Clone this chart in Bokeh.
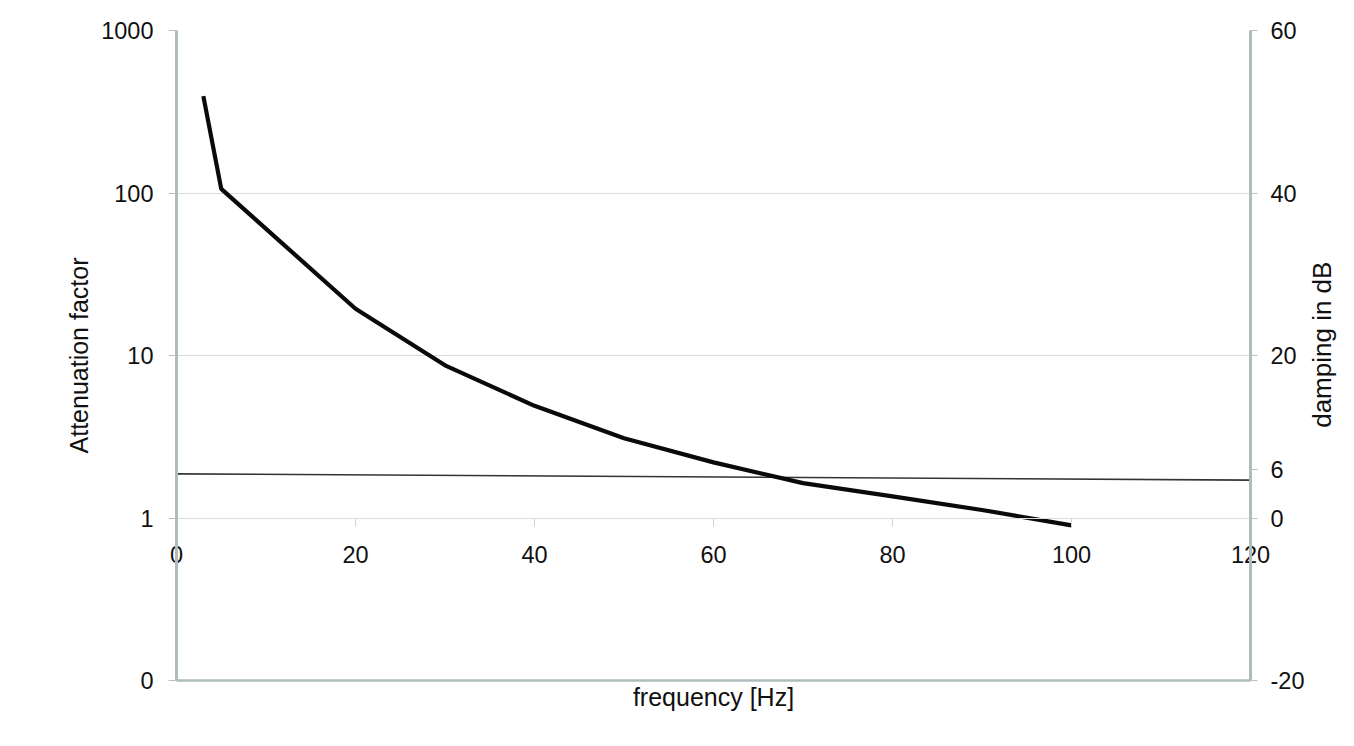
import math
import numpy as np
from bokeh.plotting import figure
from bokeh.models import (LinearAxis, Range1d, FixedTicker, LinearScale)
from bokeh.embed import file_html
from bokeh.resources import INLINE

# ---- data ----
freq = [3, 5, 20, 30, 40, 50, 60, 70, 80, 90, 100]
attenuation = [395, 106, 19.4, 8.7, 4.9, 3.1, 2.2, 1.64, 1.36, 1.12, 0.90]
ref_freq = [0, 120]
ref_factor = [1.87, 1.71]

x_ticks = [0, 20, 40, 60, 80, 100, 120]
left_ticks = [0.1, 1, 10, 100, 1000]
left_labels = {0.1: "0", 1: "1", 10: "10", 100: "100", 1000: "1000"}
grid_ticks = [1, 10, 100, 1000]
right_ticks = [-20, 0, 6, 20, 40, 60]
right_labels = {-20: "-20"}
right_title = "damping in dB"
right_title_start = 11.1   # dB level where the rotated right title begins

FONT = "Liberation Sans"
BORDER = "#aebcbc"
GRID = "#d9dcdc"
TICK = "#b8c0c0"
TXT = "#111111"

p = figure(width=1354, height=738, output_backend="svg", toolbar_location=None,
           x_range=Range1d(0, 120), y_range=Range1d(0.1, 1000),
           y_axis_type="log", x_axis_location=None,
           min_border_left=176, min_border_right=104,
           min_border_top=30, min_border_bottom=58)
p.outline_line_color = None
p.xgrid.visible = False
p.ygrid.ticker = FixedTicker(ticks=grid_ticks)
p.ygrid.grid_line_color = GRID
p.ygrid.grid_line_width = 1

# left axis
ya = p.yaxis[0]
ya.ticker = FixedTicker(ticks=left_ticks)
ya.major_label_overrides = left_labels
ya.axis_line_color = BORDER
ya.axis_line_width = 3
ya.major_tick_line_color = TICK
ya.major_tick_in = 0
ya.major_tick_out = 8
ya.minor_tick_line_color = None
ya.major_label_standoff = 15
ya.major_label_text_font = FONT
ya.major_label_text_font_size = "23.5px"
ya.major_label_text_color = TXT
ya.axis_label = "Attenuation factor"
ya.axis_label_text_font = FONT
ya.axis_label_text_font_size = "25px"
ya.axis_label_text_font_style = "normal"
ya.axis_label_text_color = TXT
ya.axis_label_standoff = 5

# right axis (dB, linear): line, ticks, tick labels
p.extra_y_ranges = {"db": Range1d(-20, 60)}
p.extra_y_scales = {"db": LinearScale()}
ra = LinearAxis(y_range_name="db", ticker=FixedTicker(ticks=right_ticks))
ra.major_label_overrides = right_labels
ra.axis_line_color = BORDER
ra.axis_line_width = 3
ra.major_tick_line_color = TICK
ra.major_tick_in = 0
ra.major_tick_out = 7
ra.minor_tick_line_color = None
ra.minor_tick_out = 0
ra.major_label_standoff = 13
ra.major_label_text_font = FONT
ra.major_label_text_font_size = "23.5px"
ra.major_label_text_color = TXT
p.add_layout(ra, "right")

# right axis title, drawn as a rotated single label of an outer axis
rl = LinearAxis(y_range_name="db", ticker=FixedTicker(ticks=[right_title_start]))
rl.major_label_overrides = {right_title_start: right_title}
rl.major_label_orientation = math.pi / 2
rl.axis_line_color = None
rl.major_tick_line_color = None
rl.minor_tick_line_color = None
rl.major_tick_in = 0
rl.major_tick_out = 0
rl.minor_tick_out = 0
rl.major_label_standoff = 14
rl.major_label_text_font = FONT
rl.major_label_text_font_size = "26px"
rl.major_label_text_color = TXT
p.add_layout(rl, "right")

# bottom border axis: carries x tick labels (lifted up to the factor-1 line) and the title
ba = LinearAxis(ticker=FixedTicker(ticks=x_ticks))
ba.axis_line_color = BORDER
ba.axis_line_width = 2.5
ba.major_tick_line_color = None
ba.minor_tick_line_color = None
ba.major_tick_out = 0
ba.major_tick_in = 0
ba.minor_tick_out = 0
ba.major_label_standoff = -135
ba.major_label_text_font = FONT
ba.major_label_text_font_size = "23.5px"
ba.major_label_text_color = TXT
ba.axis_label = "frequency [Hz]"
ba.axis_label_text_font = FONT
ba.axis_label_text_font_size = "25px"
ba.axis_label_text_font_style = "normal"
ba.axis_label_text_color = TXT
ba.axis_label_standoff = 117
p.add_layout(ba, "below")

# tick marks on the factor-1 line
xa = LinearAxis(ticker=FixedTicker(ticks=x_ticks), fixed_location=1)
xa.axis_line_color = GRID
xa.major_tick_line_color = "#cfd4d4"
xa.major_tick_in = 0
xa.major_tick_out = 8
xa.minor_tick_line_color = None
xa.major_label_text_font_size = "0px"
xa.major_label_text_color = None
p.add_layout(xa, "below")

# data lines
p.line(ref_freq, ref_factor, line_color="#333333", line_width=1.6)
p.line(freq, attenuation, line_color="#0a0a0a", line_width=4.2)

open("out.html", "w").write(file_html(p, INLINE))
